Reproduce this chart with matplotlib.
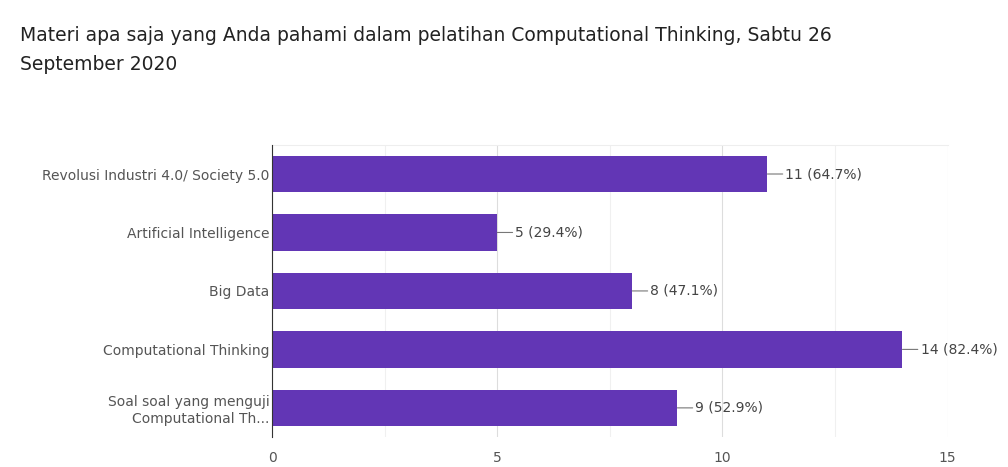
import matplotlib.pyplot as plt
import numpy as np

plt.rcParams['font.family'] = ['DejaVu Sans']

# data
categories = ['Revolusi Industri 4.0/ Society 5.0', 'Artificial Intelligence', 'Big Data',
              'Computational Thinking', 'Soal soal yang menguji\nComputational Th...']
counts = [11, 5, 8, 14, 9]
percents = [64.7, 29.4, 47.1, 82.4, 52.9]
xticks = [0, 5, 10, 15]

fig = plt.figure(figsize=(10.08, 4.67), dpi=100)
ax = fig.add_axes([0.270, 0.064, 0.670, 0.626])

y = np.arange(len(categories))
ax.barh(y, counts, height=0.62, color='#6236b5', zorder=3)

# label: short leader line + "n (p%)"
for i, (c, p) in enumerate(zip(counts, percents)):
    ax.annotate('{} ({}%)'.format(c, p), xy=(c, i), xytext=(13, 0), textcoords='offset points',
                va='center', ha='left', fontsize=10, color='#444444',
                arrowprops=dict(arrowstyle='-', color='#777777', lw=0.8, shrinkA=0, shrinkB=0))

ax.set_xlim(0, 15)
ax.set_ylim(len(categories) - 0.5, -0.5)
ax.set_xticks(xticks)
ax.set_xticks([2.5, 7.5, 12.5], minor=True)
ax.set_yticks(y)
ax.set_yticklabels(categories)
ax.tick_params(axis='both', which='both', length=0, labelsize=10, labelcolor='#555555')
ax.tick_params(axis='x', pad=10)
ax.tick_params(axis='y', pad=2)
ax.grid(axis='x', which='major', color='#dddddd', lw=0.8, zorder=0)
ax.grid(axis='x', which='minor', color='#f0f0f0', lw=0.8, zorder=0)

for s in ['right', 'bottom']:
    ax.spines[s].set_visible(False)
ax.spines['top'].set_color('#eeeeee')
ax.spines['left'].set_color('#333333')
ax.spines['left'].set_zorder(4)

fig.text(0.02, 0.945, 'Materi apa saja yang Anda pahami dalam pelatihan Computational Thinking, Sabtu 26\nSeptember 2020',
         fontsize=13.5, color='#222222', va='top', ha='left', linespacing=1.7)

fig.savefig('out.png', dpi=100)
